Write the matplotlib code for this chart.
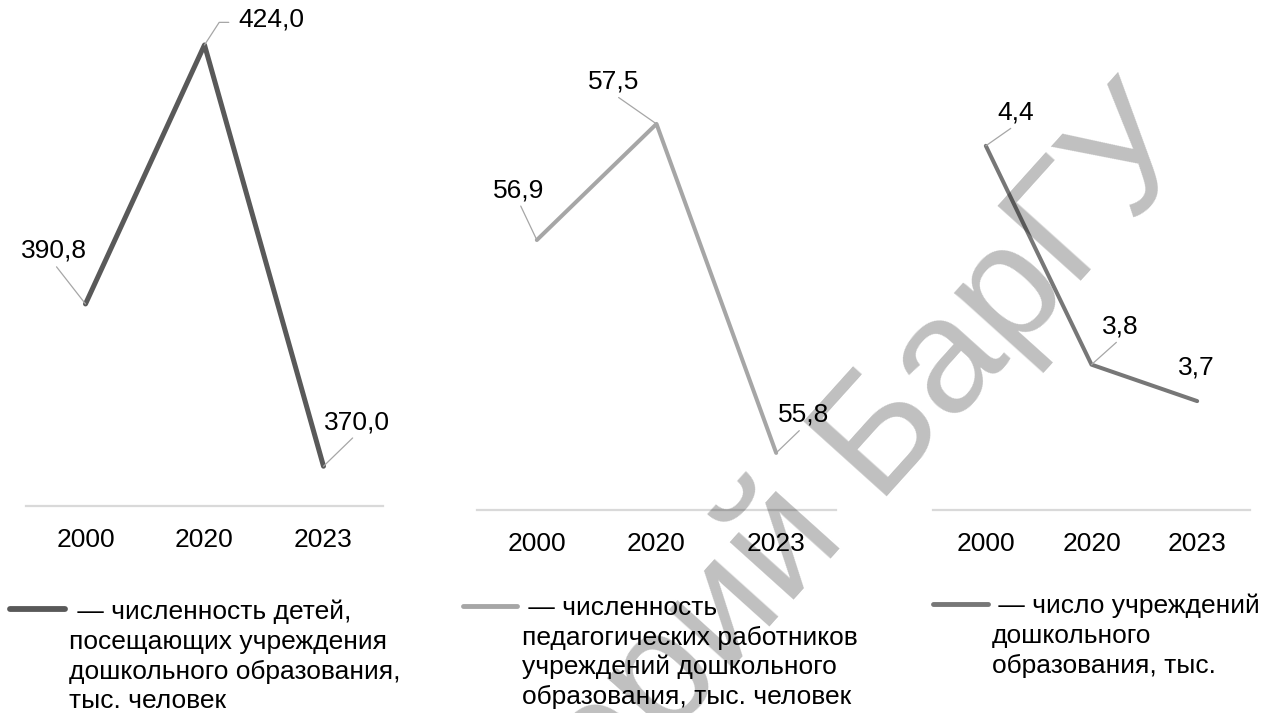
import numpy as np
import matplotlib
matplotlib.use("Agg")
import matplotlib.pyplot as plt
from matplotlib.lines import Line2D
from matplotlib.textpath import TextPath
from matplotlib.font_manager import FontProperties

plt.rcParams['font.family'] = ['Liberation Sans', 'DejaVu Sans']

# ---- data ----
years = ['2000', '2020', '2023']
children = [390.8, 424.0, 370.0]
teachers = [56.9, 57.5, 55.8]
institutions = [4.4, 3.8, 3.7]

legend_children = [' — численность детей,', 'посещающих учреждения',
                   'дошкольного образования,', 'тыс. человек']
legend_teachers = [' — численность', 'педагогических работников',
                   'учреждений дошкольного', 'образования, тыс. человек']
legend_inst = [' — число учреждений', 'дошкольного', 'образования, тыс.']

watermark_head = 'Репозиторий '
watermark_tail = 'БарГУ'

W, H = 1261, 713
fig = plt.figure(figsize=(W / 100, H / 100), dpi=100)


def px_axes(left, top, right, bottom):
    return fig.add_axes([left / W, 1 - bottom / H, (right - left) / W, (bottom - top) / H])


FS = 19
panels = [
    dict(box=(26, 20, 383, 506), ylim=(364.9, 427.2), vals=children, color='#595959', lw=3.6,
         offs=[(-32, 53, None), (67, 25, 'elbow'), (33, 44, None)],
         leg=legend_children, leg_line=(10, 65, 609), leg_x=(70, 69), leg_y=[612, 642, 672, 701]),
    dict(box=(477, 20, 836, 510), ylim=(55.505, 58.037), vals=teachers, color='#a6a6a6', lw=2.9,
         offs=[(-18, 50, None), (-43, 42, None), (27, 38, None)],
         leg=legend_teachers, leg_line=(463, 517, 606), leg_x=(521, 522), leg_y=[608, 638, 667, 697]),
    dict(box=(933, 20, 1250, 510), ylim=(3.4014, 4.745), vals=institutions, color='#777777', lw=2.9,
         offs=[(30, 33, None), (29, 38, None), (-1, 34, 'none')],
         leg=legend_inst, leg_line=(933, 988, 604), leg_x=(991, 992), leg_y=[606, 636, 666]),
]

for p in panels:
    ax = px_axes(*p['box'])
    x = range(len(years))
    ax.plot(x, p['vals'], color=p['color'], lw=p['lw'], solid_capstyle='round',
            solid_joinstyle='round', zorder=3)
    ax.set_xlim(-0.5, 2.5)
    ax.set_ylim(*p['ylim'])
    ax.set_xticks(list(x))
    ax.set_xticklabels(years, fontsize=FS)
    ax.set_yticks([])
    ax.tick_params(axis='x', length=0, pad=16)
    for s in ['top', 'left', 'right']:
        ax.spines[s].set_visible(False)
    ax.spines['bottom'].set_color('#d9d9d9')
    ax.spines['bottom'].set_linewidth(1.6)
    for i, (v, (dx, dy, kind)) in enumerate(zip(p['vals'], p['offs'])):
        label = f'{v:.1f}'.replace('.', ',')
        kw = dict(xy=(i, v), xytext=(dx, dy), textcoords='offset pixels',
                  ha='center', va='center', fontsize=FS, annotation_clip=False)
        if kind == 'none':
            ax.annotate(label, **kw)
        elif kind == 'elbow':
            ax.annotate(label, **kw,
                        arrowprops=dict(arrowstyle='-', color='#a6a6a6', lw=0.9,
                                        shrinkA=5, shrinkB=0, relpos=(0, 0.4),
                                        connectionstyle='angle,angleA=0,angleB=57,rad=0'))
        else:
            ax.annotate(label, **kw,
                        arrowprops=dict(arrowstyle='-', color='#a6a6a6', lw=0.9,
                                        shrinkA=1, shrinkB=0, relpos=(0.5, 0)))
    # legend
    x0, x1, ly = p['leg_line']
    fig.add_artist(Line2D([x0 / W, x1 / W], [1 - ly / H, 1 - ly / H], color=p['color'],
                          lw=p['lw'] + 0.6, solid_capstyle='round', transform=fig.transFigure))
    for k, (txt, yy) in enumerate(zip(p['leg'], p['leg_y'])):
        xx = p['leg_x'][0] if k == 0 else p['leg_x'][1]
        fig.text(xx / W, 1 - yy / H, txt, fontsize=FS, ha='left', va='center')

# watermark: place so that the word "БарГУ" is centred at a chosen pixel point
WM_FS = 118
WM_ANG = 48
prop = FontProperties(family='Liberation Sans')
tail_w = TextPath((0, 0), watermark_tail, size=WM_FS, prop=prop).get_extents().width * 100 / 72
cx, cy = 1012, 713 - 292           # centre of "БарГУ" (pixels, y up)
d = np.array([np.cos(np.radians(WM_ANG)), np.sin(np.radians(WM_ANG))])
ax_, ay_ = np.array([cx, cy]) + d * tail_w / 2
fig.text(ax_ / W, ay_ / H, watermark_head + watermark_tail, fontsize=WM_FS, color='black',
         alpha=0.25, rotation=WM_ANG, rotation_mode='anchor', ha='right', va='center', zorder=10)

fig.savefig('out.png', dpi=100)
